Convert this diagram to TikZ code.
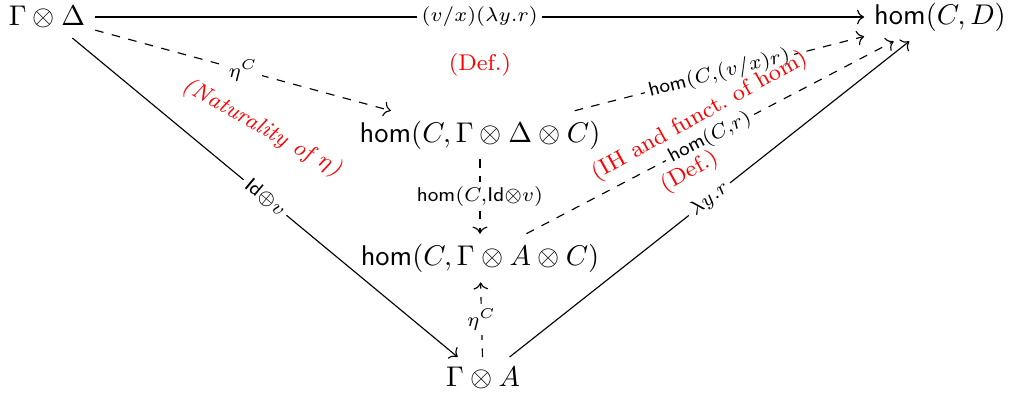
\documentclass[tikz,border=0pt]{standalone}
\usepackage{amsmath,amssymb}
\usetikzlibrary{arrows.meta}
\newcommand{\edgelab}[1]{$\scriptstyle #1$}
\begin{document}
\begin{tikzpicture}[x=0.351pt,y=-0.351pt,
  obj/.style={inner sep=3.33pt},
  lab/.style={fill=white, inner sep=1.5pt, font=\normalsize},
  note/.style={text=red, font=\footnotesize},
  arr/.style={-{Computer Modern Rightarrow[]}, line width=0.4pt},
  darr/.style={arr, dashed}]
\useasboundingbox (0,0) rectangle (1010,395);
\node[obj] (GD) at (47,17) {$\Gamma\otimes\Delta$};
\node[obj] (HCD) at (940,17) {$\mathsf{hom}(C,D)$};
\node[obj] (HGDC) at (480,135) {$\mathsf{hom}(C,\Gamma\otimes\Delta\otimes C)$};
\node[obj] (HGAC) at (480,258) {$\mathsf{hom}(C,\Gamma\otimes A\otimes C)$};
\node[obj] (GA) at (483,378) {$\Gamma\otimes A$};

\draw[arr] (GD) -- node[lab] {\edgelab{(v/x)(\lambda y.r)}} (HCD);
\draw[darr] (GD) -- node[lab] {\edgelab{\eta^C}} (HGDC);
\draw[arr] (GD) -- node[lab, sloped] {\edgelab{\mathsf{Id}\oplus v}} (GA);
\draw[darr] (HGDC) -- node[lab] {\edgelab{\mathsf{hom}(C,\mathsf{Id}\otimes v)}} (HGAC);
\draw[darr] (GA) -- node[lab] {\edgelab{\eta^C}} (HGAC);
\draw[darr] (HGDC) -- node[lab, sloped] {\edgelab{\mathsf{hom}(C,(v/x)r)}} (HCD);
\draw[darr] (HGAC) -- node[lab, sloped] {\edgelab{\mathsf{hom}(C,r)}} (HCD);
\draw[arr] (GA) -- node[lab, sloped] {\edgelab{\lambda y.r}} (HCD);

\node[note] (n1) at (480,65) {(Def.)};
\node[note, rotate=-29] (n2) at (262,128) {\textit{(Naturality of $\eta$)}};
\node[note, rotate=29] (n3) at (700,116) {(IH and funct.\ of hom)};
\node[note, rotate=29] (n4) at (690,172) {(Def.)};
\end{tikzpicture}
\end{document}
